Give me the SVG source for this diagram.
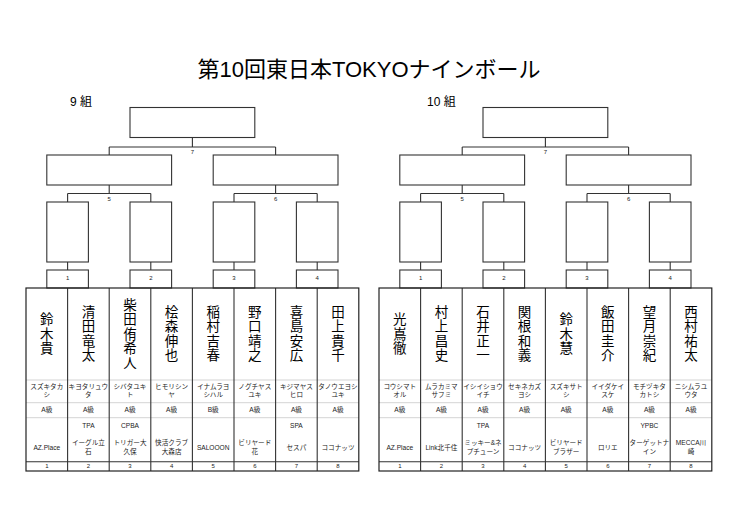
<svg xmlns="http://www.w3.org/2000/svg" width="740" height="523" viewBox="0 0 740 523">
<style>
.bg{fill:#fff}
.box{fill:#fff;stroke:#333;stroke-width:1.1}
.ln{fill:none;stroke:#333;stroke-width:1.1}
.lt{fill:none;stroke:#c8c8c8;stroke-width:0.8}
.tb{fill:none;stroke:#222;stroke-width:1.2}
.ttl{font-family:"Liberation Sans","Noto Sans CJK JP",sans-serif;font-size:22px;text-anchor:middle;fill:#000}
.grp{font-family:"Liberation Sans","Noto Sans CJK JP",sans-serif;font-size:12px;fill:#000}
.nm{font-family:"Noto Sans CJK JP",sans-serif;font-size:13.5px;text-anchor:middle;fill:#000;writing-mode:vertical-rl;letter-spacing:1px}
.sm{font-family:"Liberation Sans","Noto Sans CJK JP",sans-serif;font-size:6.6px;text-anchor:middle;fill:#222}
.no{font-family:"Liberation Sans",sans-serif;font-size:6px;text-anchor:middle;fill:#222}
</style>
<rect class="bg" x="0" y="0" width="740" height="523"/>
<text class="ttl" x="369" y="77">第10回東日本TOKYOナインボール</text>
<text class="grp" x="70" y="106">9 組</text>
<text class="grp" x="427" y="106">10 組</text>

<!-- ===== Group 9 bracket ===== -->
<g id="g9-connectors">
<path class="ln" d="M192.4 137.5V147M109.2 147H275.6M109.2 147V155M275.6 147V155M109.2 185V193.5M67.6 193.5H150.8M67.6 193.5V202M150.8 193.5V202M275.6 185V193.5M234 193.5H317.2M234 193.5V202M317.2 193.5V202M67.6 262V270M150.8 262V270M234 262V270M317.2 262V270"/>
<text class="no" x="192.4" y="154">7</text>
<text class="no" x="109.2" y="200.5">5</text>
<text class="no" x="275.6" y="200.5">6</text>
</g>
<g id="g9-final"><rect class="box" x="130" y="107.5" width="124.8" height="30"/></g>
<g id="g9-m5"><rect class="box" x="46.8" y="155" width="124.8" height="30"/></g>
<g id="g9-m6"><rect class="box" x="213.2" y="155" width="124.8" height="30"/></g>
<g id="g9-w1"><rect class="box" x="46.8" y="202" width="41.6" height="60"/></g>
<g id="g9-w2"><rect class="box" x="130" y="202" width="41.6" height="60"/></g>
<g id="g9-w3"><rect class="box" x="213.2" y="202" width="41.6" height="60"/></g>
<g id="g9-w4"><rect class="box" x="296.4" y="202" width="41.6" height="60"/></g>
<g id="g9-m1"><rect class="box" x="46.8" y="270" width="41.6" height="18"/><text class="no" x="67.6" y="280">1</text></g>
<g id="g9-m2"><rect class="box" x="130" y="270" width="41.6" height="18"/><text class="no" x="150.8" y="280">2</text></g>
<g id="g9-m3"><rect class="box" x="213.2" y="270" width="41.6" height="18"/><text class="no" x="234" y="280">3</text></g>
<g id="g9-m4"><rect class="box" x="296.4" y="270" width="41.6" height="18"/><text class="no" x="317.2" y="280">4</text></g>

<g id="g9-table">
<path class="lt" d="M26 380H358.8M26 402.7H358.8M26 417.7H358.8"/>
<path class="ln" d="M26 461.7H358.8M67.6 288V471M109.2 288V471M150.8 288V471M192.4 288V471M234 288V471M275.6 288V471M317.2 288V471"/>
<rect class="tb" x="26" y="288" width="332.8" height="183"/>
</g>

<g id="g9-p1">
<text class="nm" x="46.8" y="334">鈴木貴</text>
<text class="sm"><tspan x="46.8" y="389">スズキタカ</tspan><tspan x="46.8" y="397">シ</tspan></text>
<text class="sm" x="46.8" y="411.5">A級</text>
<text class="sm" x="46.8" y="449.5">AZ.Place</text>
<text class="no" x="46.8" y="468.3">1</text>
</g>
<g id="g9-p2">
<text class="nm" x="88.4" y="334">清田竜太</text>
<text class="sm"><tspan x="88.4" y="389">キヨタリュウ</tspan><tspan x="88.4" y="397">タ</tspan></text>
<text class="sm" x="88.4" y="411.5">A級</text>
<text class="sm" x="88.4" y="428">TPA</text>
<text class="sm"><tspan x="88.4" y="445.3">イーグル立</tspan><tspan x="88.4" y="453.7">石</tspan></text>
<text class="no" x="88.4" y="468.3">2</text>
</g>
<g id="g9-p3">
<text class="nm" x="130" y="334">柴田侑希人</text>
<text class="sm"><tspan x="130" y="389">シバタユキ</tspan><tspan x="130" y="397">ト</tspan></text>
<text class="sm" x="130" y="411.5">A級</text>
<text class="sm" x="130" y="428">CPBA</text>
<text class="sm"><tspan x="130" y="445.3">トリガー大</tspan><tspan x="130" y="453.7">久保</tspan></text>
<text class="no" x="130" y="468.3">3</text>
</g>
<g id="g9-p4">
<text class="nm" x="171.6" y="334">桧森伸也</text>
<text class="sm"><tspan x="171.6" y="389">ヒモリシン</tspan><tspan x="171.6" y="397">ヤ</tspan></text>
<text class="sm" x="171.6" y="411.5">A級</text>
<text class="sm"><tspan x="171.6" y="445.3">快活クラブ</tspan><tspan x="171.6" y="453.7">大森店</tspan></text>
<text class="no" x="171.6" y="468.3">4</text>
</g>
<g id="g9-p5">
<text class="nm" x="213.2" y="334">稲村吉春</text>
<text class="sm"><tspan x="213.2" y="389">イナムラヨ</tspan><tspan x="213.2" y="397">シハル</tspan></text>
<text class="sm" x="213.2" y="411.5">B級</text>
<text class="sm" x="213.2" y="449.5">SALOOON</text>
<text class="no" x="213.2" y="468.3">5</text>
</g>
<g id="g9-p6">
<text class="nm" x="254.8" y="334">野口靖之</text>
<text class="sm"><tspan x="254.8" y="389">ノグチヤス</tspan><tspan x="254.8" y="397">ユキ</tspan></text>
<text class="sm" x="254.8" y="411.5">A級</text>
<text class="sm"><tspan x="254.8" y="445.3">ビリヤード</tspan><tspan x="254.8" y="453.7">花</tspan></text>
<text class="no" x="254.8" y="468.3">6</text>
</g>
<g id="g9-p7">
<text class="nm" x="296.4" y="334">喜島安広</text>
<text class="sm"><tspan x="296.4" y="389">キジマヤス</tspan><tspan x="296.4" y="397">ヒロ</tspan></text>
<text class="sm" x="296.4" y="411.5">A級</text>
<text class="sm" x="296.4" y="428">SPA</text>
<text class="sm" x="296.4" y="449.5">セスパ</text>
<text class="no" x="296.4" y="468.3">7</text>
</g>
<g id="g9-p8">
<text class="nm" x="338" y="334">田上貴千</text>
<text class="sm"><tspan x="338" y="389">タノウエヨシ</tspan><tspan x="338" y="397">ユキ</tspan></text>
<text class="sm" x="338" y="411.5">A級</text>
<text class="sm" x="338" y="449.5">ココナッツ</text>
<text class="no" x="338" y="468.3">8</text>
</g>

<!-- ===== Group 10 bracket ===== -->
<g id="g10-connectors">
<path class="ln" d="M545.4 137.5V147M462.2 147H628.6M462.2 147V155M628.6 147V155M462.2 185V193.5M420.6 193.5H503.8M420.6 193.5V202M503.8 193.5V202M628.6 185V193.5M587 193.5H670.2M587 193.5V202M670.2 193.5V202M420.6 262V270M503.8 262V270M587 262V270M670.2 262V270"/>
<text class="no" x="545.4" y="154">7</text>
<text class="no" x="462.2" y="200.5">5</text>
<text class="no" x="628.6" y="200.5">6</text>
</g>
<g id="g10-final"><rect class="box" x="483" y="107.5" width="124.8" height="30"/></g>
<g id="g10-m5"><rect class="box" x="399.8" y="155" width="124.8" height="30"/></g>
<g id="g10-m6"><rect class="box" x="566.2" y="155" width="124.8" height="30"/></g>
<g id="g10-w1"><rect class="box" x="399.8" y="202" width="41.6" height="60"/></g>
<g id="g10-w2"><rect class="box" x="483" y="202" width="41.6" height="60"/></g>
<g id="g10-w3"><rect class="box" x="566.2" y="202" width="41.6" height="60"/></g>
<g id="g10-w4"><rect class="box" x="649.4" y="202" width="41.6" height="60"/></g>
<g id="g10-m1"><rect class="box" x="399.8" y="270" width="41.6" height="18"/><text class="no" x="420.6" y="280">1</text></g>
<g id="g10-m2"><rect class="box" x="483" y="270" width="41.6" height="18"/><text class="no" x="503.8" y="280">2</text></g>
<g id="g10-m3"><rect class="box" x="566.2" y="270" width="41.6" height="18"/><text class="no" x="587" y="280">3</text></g>
<g id="g10-m4"><rect class="box" x="649.4" y="270" width="41.6" height="18"/><text class="no" x="670.2" y="280">4</text></g>

<g id="g10-table">
<path class="lt" d="M379 380H711.8M379 402.7H711.8M379 417.7H711.8"/>
<path class="ln" d="M379 461.7H711.8M420.6 288V471M462.2 288V471M503.8 288V471M545.4 288V471M587 288V471M628.6 288V471M670.2 288V471"/>
<rect class="tb" x="379" y="288" width="332.8" height="183"/>
</g>

<g id="g10-p1">
<text class="nm" x="399.8" y="334">光嶌徹</text>
<text class="sm"><tspan x="399.8" y="389">コウシマト</tspan><tspan x="399.8" y="397">オル</tspan></text>
<text class="sm" x="399.8" y="411.5">A級</text>
<text class="sm" x="399.8" y="449.5">AZ.Place</text>
<text class="no" x="399.8" y="468.3">1</text>
</g>
<g id="g10-p2">
<text class="nm" x="441.4" y="334">村上昌史</text>
<text class="sm"><tspan x="441.4" y="389">ムラカミマ</tspan><tspan x="441.4" y="397">サフミ</tspan></text>
<text class="sm" x="441.4" y="411.5">A級</text>
<text class="sm" x="441.4" y="449.5">Link北千住</text>
<text class="no" x="441.4" y="468.3">2</text>
</g>
<g id="g10-p3">
<text class="nm" x="483" y="334">石井正一</text>
<text class="sm"><tspan x="483" y="389">イシイショウ</tspan><tspan x="483" y="397">イチ</tspan></text>
<text class="sm" x="483" y="411.5">A級</text>
<text class="sm" x="483" y="428">TPA</text>
<text class="sm"><tspan x="483" y="445.3">ミッキー&amp;ネ</tspan><tspan x="483" y="453.7">プチューン</tspan></text>
<text class="no" x="483" y="468.3">3</text>
</g>
<g id="g10-p4">
<text class="nm" x="524.6" y="334">関根和義</text>
<text class="sm"><tspan x="524.6" y="389">セキネカズ</tspan><tspan x="524.6" y="397">ヨシ</tspan></text>
<text class="sm" x="524.6" y="411.5">A級</text>
<text class="sm" x="524.6" y="449.5">ココナッツ</text>
<text class="no" x="524.6" y="468.3">4</text>
</g>
<g id="g10-p5">
<text class="nm" x="566.2" y="334">鈴木慧</text>
<text class="sm"><tspan x="566.2" y="389">スズキサト</tspan><tspan x="566.2" y="397">シ</tspan></text>
<text class="sm" x="566.2" y="411.5">A級</text>
<text class="sm"><tspan x="566.2" y="445.3">ビリヤード</tspan><tspan x="566.2" y="453.7">ブラザー</tspan></text>
<text class="no" x="566.2" y="468.3">5</text>
</g>
<g id="g10-p6">
<text class="nm" x="607.8" y="334">飯田圭介</text>
<text class="sm"><tspan x="607.8" y="389">イイダケイ</tspan><tspan x="607.8" y="397">スケ</tspan></text>
<text class="sm" x="607.8" y="411.5">A級</text>
<text class="sm" x="607.8" y="449.5">ロリエ</text>
<text class="no" x="607.8" y="468.3">6</text>
</g>
<g id="g10-p7">
<text class="nm" x="649.4" y="334">望月崇紀</text>
<text class="sm"><tspan x="649.4" y="389">モチヅキタ</tspan><tspan x="649.4" y="397">カトシ</tspan></text>
<text class="sm" x="649.4" y="411.5">A級</text>
<text class="sm" x="649.4" y="428">YPBC</text>
<text class="sm"><tspan x="649.4" y="445.3">ターゲットナ</tspan><tspan x="649.4" y="453.7">イン</tspan></text>
<text class="no" x="649.4" y="468.3">7</text>
</g>
<g id="g10-p8">
<text class="nm" x="691" y="334">西村祐太</text>
<text class="sm"><tspan x="691" y="389">ニシムラユ</tspan><tspan x="691" y="397">ウタ</tspan></text>
<text class="sm" x="691" y="411.5">A級</text>
<text class="sm"><tspan x="691" y="445.3">MECCA川</tspan><tspan x="691" y="453.7">崎</tspan></text>
<text class="no" x="691" y="468.3">8</text>
</g>
</svg>
